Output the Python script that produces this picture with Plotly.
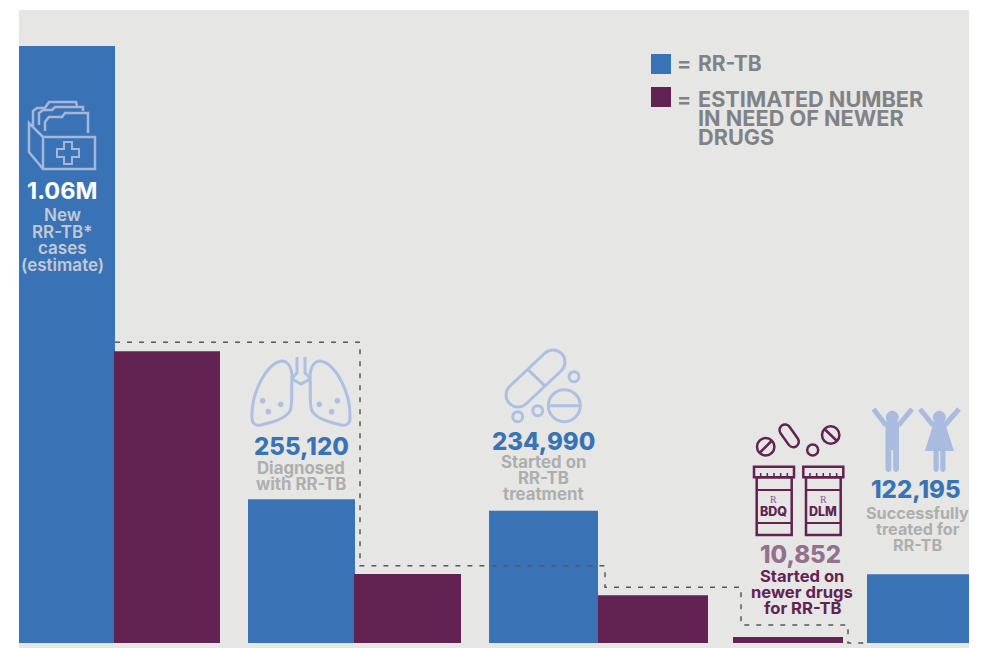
import plotly.graph_objects as go

# Care-cascade counts
stages = ["New RR-TB cases", "Diagnosed", "Started treatment", "Successfully treated"]
rr_tb_counts = [1060000, 255120, 234990, 122195]
need_stages = ["New RR-TB cases", "Diagnosed", "Started treatment", "Started newer drugs"]
need_counts = [518000, 122500, 85000, 10852]

# Bar edges along the horizontal axis
rr_tb_edges = [(19, 115), (248, 355), (489, 598), (867, 969)]
need_edges = [(114, 220), (354, 461), (598, 708), (733, 843)]

# Stepped dashed guide above the estimated-need bars
step_x = [115, 360, 605, 741, 848, 867]
step_level = [534000, 137000, 99000, 32000, 0, 0]

BLUE = "#3a73b5"
PURPLE = "#622252"
PANEL = "#e6e6e5"
GREY_TEXT = "#aeaeae"
LEGEND_TEXT = "#808285"
ICON_ON_BLUE = "#a5b6d8"
ICON_LIGHT = "#adc0e3"
FONT = "Inter"

WIDTH, HEIGHT = 981, 648
BASELINE = 643
PX_PER_CASE = 597 / 1060000

shapes = []
annotations = []


def outline(path, color, width=2.5):
    shapes.append(dict(type="path", xref="x", yref="y2", path=path,
                       line=dict(color=color, width=width), fillcolor="rgba(0,0,0,0)"))


def filled(path, color):
    shapes.append(dict(type="path", xref="x", yref="y2", path=path,
                       line=dict(color=color, width=0), fillcolor=color))


def circle(cx, cy, r, color, width=2.5, fill="rgba(0,0,0,0)"):
    shapes.append(dict(type="circle", xref="x", yref="y2",
                       x0=cx - r, x1=cx + r, y0=cy - r, y1=cy + r,
                       line=dict(color=color, width=width), fillcolor=fill))


def rect(x0, y0, x1, y1, color, layer="above", line=None, width=0):
    shapes.append(dict(type="rect", xref="x", yref="y2", layer=layer,
                       x0=x0, x1=x1, y0=y0, y1=y1, fillcolor=color,
                       line=dict(color=line or color, width=width)))


def capsule(x0, y0, x1, y1, r, color, width=2.5):
    # Rounded pill between two end centres
    dx, dy = x1 - x0, y1 - y0
    n = (dx ** 2 + dy ** 2) ** 0.5
    ux, uy = dx / n, dy / n
    px, py = -uy * r, ux * r
    k = 0.5523 * r
    ax, ay = ux * k, uy * k
    kx, ky = px * 0.5523, py * 0.5523
    path = (
        f"M{x0 + px},{y0 + py} L{x1 + px},{y1 + py} "
        f"C{x1 + px + ax},{y1 + py + ay} {x1 + ux * r + kx},{y1 + uy * r + ky} {x1 + ux * r},{y1 + uy * r} "
        f"C{x1 + ux * r - kx},{y1 + uy * r - ky} {x1 - px + ax},{y1 - py + ay} {x1 - px},{y1 - py} "
        f"L{x0 - px},{y0 - py} "
        f"C{x0 - px - ax},{y0 - py - ay} {x0 - ux * r - kx},{y0 - uy * r - ky} {x0 - ux * r},{y0 - uy * r} "
        f"C{x0 - ux * r + kx},{y0 - uy * r + ky} {x0 + px - ax},{y0 + py - ay} {x0 + px},{y0 + py} Z"
    )
    outline(path, color, width)


def text(x, y, s, size, color, anchor="center", weight=700, family=FONT):
    annotations.append(dict(xref="x", yref="y2", x=x, y=y, text=s, showarrow=False,
                            xanchor=anchor, yanchor="middle", borderpad=0,
                            font=dict(family=family, size=size, color=color, weight=weight)))


# Grey panel behind everything
rect(19, 10, 969, HEIGHT, PANEL, layer="below")

# Folder icon
c = ICON_ON_BLUE
outline("M43,137 H95 V169 H43 Z M43,137 L29,123 V152 L43,169", c)
outline("M33,126 V111 L37,108 H45 L49,102 H76 L77,106", c)
outline("M39,125 V113 L43,110 H52 L55,107 H83 V111", c)
outline("M45,131 V122 L49,117 H62 L65,113 H88 V133", c)
outline("M64,142 H72 V149 H79 V157 H72 V164 H64 V157 H57 V149 H64 Z", c, 2)

# Lungs icon
c = ICON_LIGHT
outline("M292,375 C291,366 287,361 282,361 C267,363 251,392 252,418 C252,424 256,426 261,425 "
        "C273,422 285,419 290,411 C293,405 291,390 292,375 Z", c, 3)
outline("M310,375 C311,366 315,361 320,361 C335,363 351,392 350,418 C350,424 346,426 341,425 "
        "C329,422 317,419 312,411 C309,405 311,390 310,375 Z", c, 3)
outline("M297,357 V373 L292,378 M305,357 V373 L310,378 M292,379 L301,384 L310,379", c, 3)
for cx, cy in [(262.7, 400.7), (280.7, 404.3), (268.3, 411.7),
               (319.3, 404.3), (337.3, 400.7), (331.7, 411.7)]:
    circle(cx, cy, 2.6, c, 0.5, c)

# Capsule and tablets icon
capsule(518, 395, 553, 362, 12, c, 3)
outline("M527.7,369.3 L545.7,386.7", c, 3)
circle(564.3, 405.7, 16, c, 3)
outline("M548.3,405.7 H580.3", c, 3)
for cx, cy in [(574, 376.7), (537.7, 410.7), (517.7, 416.7)]:
    circle(cx, cy, 5, c, 3)

# Prescription bottles and loose pills
c = PURPLE
for cap_l, cap_r, body_l, body_r in [(754, 794, 756.7, 791.7), (803.3, 843.3, 806, 840.7)]:
    rect(cap_l, 466.7, cap_r, 477.3, "rgba(0,0,0,0)", line=c, width=2.5)
    rect(body_l, 477.3, body_r, 535, "rgba(0,0,0,0)", line=c, width=2.5)
    outline(f"M{body_l},490 H{body_r} M{body_l},523 H{body_r}", c, 1.8)
    for i in range(1, 6):
        tx = cap_l + (cap_r - cap_l) * i / 6
        outline(f"M{tx},473 V477", c, 1.5)
text(773, 499, "R", 10, "#9b4d97", weight=400, family="Liberation Serif")
text(823.3, 499, "R", 10, "#9b4d97", weight=400, family="Liberation Serif")
text(773.7, 511, "BDQ", 12.5, c, weight=800)
text(823.3, 511, "DLM", 12.5, c, weight=800)
circle(765.7, 446.7, 8.7, c)
outline("M760,452.5 L771.5,441", c)
capsule(785, 430, 793.3, 441.7, 5.5, c)
circle(812.7, 450, 5.5, c)
circle(830.7, 435, 8.7, c)
outline("M825,429.5 L836.5,440.5", c)

# Two raised-arm figures
c = "#a9bcdf"
circle(892.3, 417.3, 6.5, c, 0, c)
circle(939.3, 417.3, 6.5, c, 0, c)
filled("M885.5,423 H899 V469 C899,473 893.2,473 893.2,469 V450 H891.3 V469 C891.3,473 885.5,473 885.5,469 Z", c)
outline("M873.5,409 L885,424 H899.5 L912,409", c, 5)
filled("M933.5,423 H945 L954,451 H925 Z", c)
filled("M933.5,450 H938.7 V469 C938.7,473 933.5,473 933.5,469 Z M940.3,450 H945.5 V469 C945.5,473 940.3,473 940.3,469 Z", c)
outline("M920,409 L932,424 H946 L959,409", c, 5)

# Stage headline figures and captions
text(62, 190, "1.06M", 23.5, "white", weight=700)
for y, s in [(215, "New"), (231.5, "RR-TB*"), (248, "cases"), (265, "(estimate)")]:
    text(62, y, s, 17, "#c3c9d4", weight=600)

text(301, 446, "255,120", 24, BLUE, weight=800)
text(301, 468, "Diagnosed", 16.8, GREY_TEXT)
text(301, 484, "with RR-TB", 16.8, GREY_TEXT)

text(543, 441, "234,990", 24, BLUE, weight=800)
for y, s in [(462, "Started on"), (478, "RR-TB"), (494, "treatment")]:
    text(543, y, s, 16.8, GREY_TEXT)

text(800, 554, "10,852", 24, "#94708f", weight=800)
for y, s in [(576, "Started on"), (592, "newer drugs"), (608, "for RR-TB")]:
    text(802, y, s, 16.6, PURPLE)

text(916, 489, "122,195", 24, BLUE, weight=800)
for y, s in [(513, "Successfully"), (529, "treated for"), (545, "RR-TB")]:
    text(917.5, y, s, 16.2, GREY_TEXT)

# Hand-set key
rect(651, 54, 671, 74, BLUE)
rect(651, 87, 671, 107, PURPLE)
text(676, 63, "=", 21, LEGEND_TEXT, anchor="left")
text(676, 99, "=", 21, LEGEND_TEXT, anchor="left")
text(696.5, 63, "RR-TB", 21, LEGEND_TEXT, anchor="left")
for y, s in [(99, "ESTIMATED NUMBER"), (117.5, "IN NEED OF NEWER"), (137, "DRUGS")]:
    text(696.5, y, s, 21.7, LEGEND_TEXT, anchor="left")

fig = go.Figure()
fig.add_bar(name="RR-TB", x=[(a + b) / 2 for a, b in rr_tb_edges], y=rr_tb_counts,
            width=[b - a for a, b in rr_tb_edges], marker=dict(color=BLUE, line_width=0),
            customdata=stages)
fig.add_bar(name="Estimated number in need of newer drugs",
            x=[(a + b) / 2 for a, b in need_edges], y=need_counts,
            width=[b - a for a, b in need_edges], marker=dict(color=PURPLE, line_width=0),
            customdata=need_stages)
fig.add_scatter(x=step_x, y=step_level, mode="lines",
                line=dict(color="#58595b", width=1.5, dash="5px,7px", shape="hv"))

fig.update_layout(
    width=WIDTH, height=HEIGHT, margin=dict(l=0, r=0, t=0, b=0),
    paper_bgcolor="white", plot_bgcolor="rgba(0,0,0,0)",
    barmode="overlay", showlegend=False, hovermode=False,
    shapes=shapes, annotations=annotations,
    xaxis=dict(range=[0, WIDTH], visible=False, fixedrange=True),
    yaxis=dict(range=[(BASELINE - HEIGHT) / PX_PER_CASE, BASELINE / PX_PER_CASE],
               visible=False, fixedrange=True),
    yaxis2=dict(range=[HEIGHT, 0], visible=False, overlaying="y", fixedrange=True),
)
# An invisible trace activates the pixel-scaled overlay axis for icons and labels
fig.add_scatter(x=[0], y=[0], yaxis="y2", mode="markers", marker=dict(opacity=0), showlegend=False)

fig.write_html("out.html", config=dict(displayModeBar=False))
